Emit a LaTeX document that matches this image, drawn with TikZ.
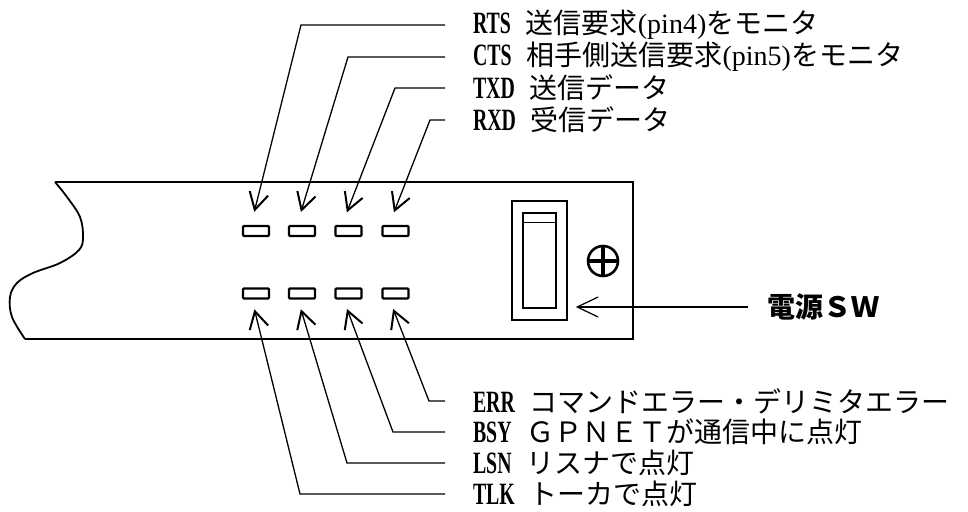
\documentclass[tikz,border=0pt]{standalone}
\usepackage{fontspec}
\setmainfont{Liberation Serif}
\newfontfamily\jp{Noto Sans CJK JP}
\newfontfamily\lt[FakeStretch=0.64]{Liberation Serif}
\newfontfamily\lp{Liberation Serif}
\usetikzlibrary{arrows.meta}
\tikzset{
  panel/.style={line width=2.6pt, line join=miter},
  ledbox/.style={draw, line width=2.2pt, minimum width=26pt, minimum height=10pt, inner sep=0pt, rounded corners=1pt},
  lead/.style={line width=1.3pt},
  ledarrow/.style={-{Straight Barb[length=17pt,width=19pt,line width=2pt]}},
  swarrow/.style={-{Straight Barb[length=21pt,width=20pt,line width=1.2pt]}},
  lbl/.style={anchor=west, inner sep=0pt, outer xsep=28pt, font=\fontsize{28}{32}\selectfont},
  swlbl/.style={anchor=west, inner sep=0pt, outer xsep=19pt, font=\fontsize{28}{32}\selectfont}
}
\newcommand{\tg}[1]{{\fontsize{31}{32}\lt\bfseries #1}\hspace{15pt}}
\begin{document}
\begin{tikzpicture}[x=1pt,y=-1pt]
\useasboundingbox (0,0) rectangle (968,511);
% panel
\draw[panel] (55,182) -- (633,182) -- (633,339) -- (25,339);
\draw[line width=1.8pt] plot[smooth, tension=0.6] coordinates {(55,182) (67,197) (80,217) (83,237) (79,250) (60,263) (33,273) (17,283) (10,297) (12,317) (25,339)};
% LEDs
\foreach \i/\x in {1/256,2/302,3/348.5,4/395.5}{
  \node[ledbox] (t\i) at (\x,231) {};
  \node[ledbox] (b\i) at (\x,293.5) {};
}
% switch
\node[draw, line width=1.5pt, minimum width=55pt, minimum height=119pt, inner sep=0pt] (swbox) at (539.5,260.5) {};
\node[draw, line width=1.3pt, minimum width=33pt, minimum height=95pt, inner sep=0pt] (swin) at (539.5,260.5) {};
\draw[line width=1.2pt] ([yshift=-10pt]swin.north west) -- ([yshift=-10pt]swin.north east);
% screw
\node[circle, draw, line width=2.6pt, minimum size=30pt, inner sep=0pt] (screw) at (603,261) {};
\draw[line width=3.4pt, shorten <=1.5pt, shorten >=1.5pt] (screw.west) -- (screw.east);
\draw[line width=3.4pt, shorten <=1.5pt, shorten >=1.5pt] (screw.north) -- (screw.south);
% top labels
\node[lbl] (rts) at (445,25) {\tg{RTS}{\jp 送信要求}{\lp (pin4)}{\jp をモニタ}};
\node[lbl] (cts) at (445,57) {\tg{CTS}{\jp 相手側送信要求}{\lp (pin5)}{\jp をモニタ}};
\node[lbl] (txd) at (445,88) {\tg{TXD}{\jp 送信データ}};
\node[lbl] (rxd) at (445,120) {\tg{RXD}{\jp 受信データ}};
\coordinate (k1) at (301,25);
\coordinate (k2) at (348,57);
\coordinate (k3) at (395,88);
\coordinate (k4) at (430,120);
\draw[lead, ledarrow, shorten >=13.5pt] (rts.west) -- (k1) -- ([xshift=-5pt]t1.north);
\draw[lead, ledarrow, shorten >=13.5pt] (cts.west) -- (k2) -- ([xshift=-5pt]t2.north);
\draw[lead, ledarrow, shorten >=13.5pt] (txd.west) -- (k3) -- ([xshift=-6.5pt]t3.north);
\draw[lead, ledarrow, shorten >=13.5pt] (rxd.west) -- (k4) -- ([xshift=-6.5pt]t4.north);
% bottom labels
\node[lbl] (err) at (445,401) {\tg{ERR}{\jp コマンドエラー・デリミタエラー}};
\node[lbl] (bsy) at (445,432) {\tg{BSY}{\jp ＧＰＮＥＴが通信中に点灯}};
\node[lbl] (lsn) at (445,463) {\tg{LSN}{\jp リスナで点灯}};
\node[lbl] (tlk) at (445,494) {\tg{TLK}{\jp トーカで点灯}};
\coordinate (m1) at (300,494);
\coordinate (m2) at (347,463);
\coordinate (m3) at (393,432);
\coordinate (m4) at (429,401);
\draw[lead, ledarrow, shorten >=10pt] (tlk.west) -- (m1) -- ([xshift=-4pt]b1.south);
\draw[lead, ledarrow, shorten >=10pt] (lsn.west) -- (m2) -- ([xshift=-4pt]b2.south);
\draw[lead, ledarrow, shorten >=10pt] (bsy.west) -- (m3) -- ([xshift=-5pt]b3.south);
\draw[lead, ledarrow, shorten >=10pt] (err.west) -- (m4) -- ([xshift=-6pt]b4.south);
% power switch label
\node[swlbl] (sw) at (748,307) {\jp\bfseries 電源ＳＷ};
\draw[lead, swarrow, line width=1.2pt, shorten >=8pt] (sw.west) -- (sw.west -| swbox.east);
\end{tikzpicture}
\end{document}
